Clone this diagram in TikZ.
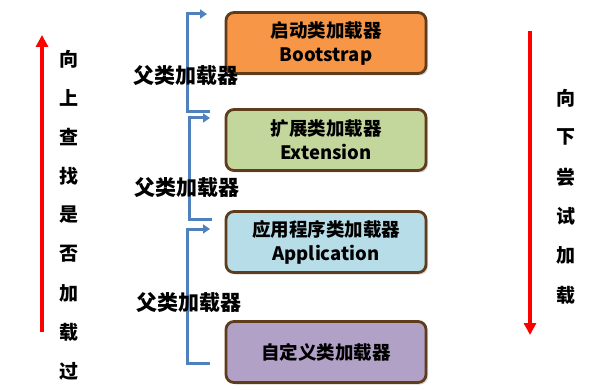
\documentclass[tikz,border=0pt]{standalone}
\usepackage{fontspec}
\newfontfamily\cjk{Noto Sans CJK SC}
\usetikzlibrary{arrows.meta,shadows}

\definecolor{bootorange}{HTML}{F79646}
\definecolor{extgreen}{HTML}{C3D69B}
\definecolor{appblue}{HTML}{B7DEE8}
\definecolor{userpurple}{HTML}{B2A1C7}
\definecolor{boxbrown}{HTML}{5E3C1C}
\definecolor{linkblue}{HTML}{4F81BD}

\begin{document}
\begin{tikzpicture}[x=1pt, y=-1pt,
    loader/.style={draw=boxbrown, line width=2.8pt, rounded corners=8pt,
        minimum width=200pt, minimum height=61pt, align=center,
        font=\cjk\bfseries\fontsize{18.5}{24}\selectfont,
        drop shadow={opacity=0.3, shadow xshift=2pt, shadow yshift=-2pt}},
    parentlink/.style={draw=linkblue, line width=3pt, -{Triangle[length=7pt,width=9pt]}},
    parentlabel/.style={font=\cjk\bfseries\fontsize{21}{24}\selectfont},
    redarrow/.style={draw=red, line width=4pt, -{Triangle[length=12pt,width=12pt]}},
    sidechar/.style={font=\cjk\bfseries\fontsize{19}{21}\selectfont}]
    \useasboundingbox (0,0) rectangle (610,390);

    % loaders
    \node[loader, fill=bootorange] (boot) at (326,43) {启动类加载器\\Bootstrap};
    \node[loader, fill=extgreen] (ext) at (326,140) {扩展类加载器\\Extension};
    \node[loader, fill=appblue] (app) at (326,242) {应用程序类加载器\\Application};
    \node[loader, fill=userpurple] (user) at (326,352) {自定义类加载器};

    % parent links
    \coordinate (up1) at (207,14);  \coordinate (dn1) at (210,112);
    \coordinate (up2) at (210,118); \coordinate (dn2) at (212,219);
    \coordinate (up3) at (210,229); \coordinate (dn3) at (210,363);
    \draw[parentlink] (dn1) -- ++(-23,0) |- (up1);
    \draw[parentlink] (dn2) -- ++(-23,0) |- (up2);
    \draw[parentlink] (dn3) -- ++(-23,0) |- (up3);
    \node[parentlabel] (p1) at (186,76) {父类加载器};
    \node[parentlabel] (p2) at (187,188) {父类加载器};
    \node[parentlabel] (p3) at (189,303) {父类加载器};

    % search directions
    \coordinate (upfrom) at (42,332); \coordinate (upto) at (42,35);
    \coordinate (dnfrom) at (530,31); \coordinate (dnto) at (530,335);
    \draw[redarrow] (upfrom) -- (upto);
    \draw[redarrow] (dnfrom) -- (dnto);
    \foreach \c [count=\i] in {向,上,查,找,是,否,加,载,过}
        \node[sidechar] (l\i) at (69,59+39*\i-39) {\c};
    \foreach \c [count=\i] in {向,下,尝,试,加,载}
        \node[sidechar] (r\i) at (566,98+39.4*\i-39.4) {\c};
\end{tikzpicture}
\end{document}
